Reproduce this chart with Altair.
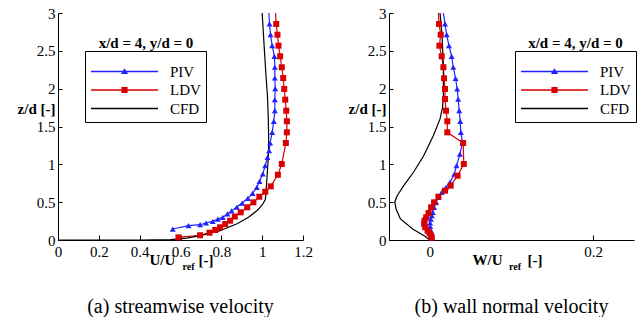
import altair as alt
import pandas as pd

SERIES = ["PIV", "LDV", "CFD"]
COLORS = ["#2222ff", "#d80000", "#000000"]
FONT = "Liberation Serif, DejaVu Serif, serif"

# ---------------- panel (a): streamwise velocity U/Uref ----------------
A_PIV_U = [0.562, 0.639, 0.696, 0.725, 0.758, 0.783, 0.807, 0.830, 0.850, 0.876, 0.902,
           0.930, 0.953, 0.974, 0.987, 1.003, 1.015, 1.026, 1.034, 1.039, 1.049, 1.057,
           1.062, 1.062, 1.064, 1.062, 1.062, 1.060, 1.049, 1.041, 1.036, 1.033]
A_PIV_Z = [0.145, 0.189, 0.202, 0.225, 0.247, 0.277, 0.300, 0.344, 0.385, 0.435, 0.488,
           0.551, 0.617, 0.696, 0.775, 0.872, 0.982, 1.093, 1.180, 1.282, 1.423, 1.569,
           1.709, 1.855, 2.000, 2.141, 2.283, 2.428, 2.568, 2.713, 2.855, 3.0]
A_LDV_U = [0.590, 0.696, 0.742, 0.770, 0.794, 0.819, 0.843, 0.866, 0.895, 0.927, 0.957,
           0.986, 1.015, 1.042, 1.077, 1.096, 1.116, 1.121, 1.121, 1.118, 1.113, 1.108,
           1.103, 1.096, 1.088, 1.080, 1.075, 1.069, 1.065]
A_LDV_Z = [0.035, 0.063, 0.096, 0.132, 0.168, 0.211, 0.255, 0.310, 0.366, 0.432, 0.498,
           0.572, 0.638, 0.709, 0.862, 1.004, 1.282, 1.423, 1.569, 1.709, 1.855, 1.996,
           2.141, 2.283, 2.428, 2.568, 2.713, 2.855, 3.0]
A_CFD_U = [0.0, 0.40, 0.55, 0.63, 0.696, 0.794, 0.835, 0.880, 0.935, 0.974, 0.990, 1.003,
           1.015, 1.018, 1.023, 1.028, 1.031, 1.032, 1.030, 1.026, 1.018, 1.010, 1.000]
A_CFD_Z = [0.0, 0.0, 0.006, 0.025, 0.057, 0.123, 0.168, 0.218, 0.305, 0.387, 0.432, 0.476,
           0.530, 0.600, 0.806, 1.000, 1.160, 1.330, 1.600, 1.900, 2.200, 2.550, 3.0]

# ---------------- panel (b): wall normal velocity W/Uref ----------------
B_PIV_W = [0.0024, 0.0020, 0.0012, 0.0004, 0.0004, 0.0012, 0.0024, 0.0036, 0.0052, 0.0077,
           0.0105, 0.0145, 0.0198, 0.0246, 0.0300, 0.0327, 0.0368, 0.0400, 0.0380, 0.0372,
           0.0360, 0.0347, 0.0335, 0.0315, 0.0287, 0.0267, 0.0234, 0.0206, 0.0186, 0.0166]
B_PIV_Z = [0.036, 0.079, 0.123, 0.181, 0.225, 0.277, 0.321, 0.366, 0.432, 0.498,
           0.564, 0.630, 0.696, 0.762, 0.872, 0.982, 1.136, 1.282, 1.423, 1.569,
           1.709, 1.863, 1.996, 2.137, 2.283, 2.428, 2.568, 2.713, 2.855, 3.0]
B_LDV_W = [0.0024, 0.0016, -0.0004, -0.0028, -0.0057, -0.0069, -0.0065, -0.0045, -0.0016,
           0.0016, 0.0052, 0.0105, 0.0186, 0.0255, 0.0340, 0.0416, 0.0408, 0.0214, 0.0214,
           0.0198, 0.0186, 0.0186, 0.0174, 0.0166, 0.0145, 0.0117, 0.0133, 0.0113, 0.0105]
B_LDV_Z = [0.030, 0.057, 0.092, 0.123, 0.168, 0.211, 0.255, 0.300, 0.357,
           0.432, 0.498, 0.572, 0.652, 0.718, 0.850, 1.004, 1.282, 1.423, 1.569,
           1.709, 1.863, 1.996, 2.137, 2.283, 2.428, 2.568, 2.713, 2.855, 3.0]
B_CFD_W = [0.0, -0.006, -0.021, -0.036, -0.041, -0.043, -0.040, -0.032, -0.020, -0.0077,
           0.0044, 0.0125, 0.0155, 0.0166, 0.0166, 0.0150, 0.0125]
B_CFD_Z = [0.0, 0.05, 0.145, 0.278, 0.40, 0.50, 0.585, 0.718, 0.895, 1.11,
           1.38, 1.60, 1.75, 1.90, 2.30, 2.70, 3.0]

Y_TICKS = [0, 0.5, 1, 1.5, 2, 2.5, 3]
A_X_TICKS = [0, 0.2, 0.4, 0.6, 0.8, 1.0, 1.2]
B_X_TICKS = [0, 0.2]

W, H = 245, 227

# legend symbols: a line segment with the series marker in its middle
LEGEND_SHAPES = [
    "M-6.7,-0.14H6.7V0.14H-6.7Z M0,-0.66L0.72,0.52L-0.72,0.52Z",
    "M-6.7,-0.14H6.7V0.14H-6.7Z M-0.62,-0.62H0.62V0.62H-0.62Z",
    "M-6.7,-0.14H6.7V0.14H-6.7Z",
]


def build_df(piv, ldv, cfd):
    rows = []
    for name, (vals, zs) in zip(SERIES, [piv, ldv, cfd]):
        n = len(vals)
        for i, (v, z) in enumerate(zip(vals, zs)):
            rows.append({"series": name, "v": v, "z": z, "i": i,
                         "marker": (name != "CFD") and (i < n - 1)})
    return pd.DataFrame(rows)


def panel(df, xdom, xticks, qty, title_x, ref_x, unit_x, ltitle_x, legend_x, caption):
    xs = alt.Scale(domain=xdom, nice=False, zero=False)
    ys = alt.Scale(domain=[0, 3], nice=False, zero=False)
    col = alt.Color("series:N", scale=alt.Scale(domain=SERIES, range=COLORS), legend=None)
    base = alt.Chart(df)

    lines = base.mark_line(strokeWidth=1.2).encode(
        x=alt.X("v:Q", scale=xs, axis=alt.Axis(
            orient="bottom", values=xticks, format="~g", ticks=False, labelFlush=False,
            labelPadding=4, title=qty, titleX=title_x, titleY=19,
            titleAlign="left", titleBaseline="middle", titleFontWeight="bold")),
        y=alt.Y("z:Q", scale=ys, axis=alt.Axis(
            orient="left", values=Y_TICKS, format="~g", ticks=False, labelFlush=False,
            labelPadding=3, title="z/d [-]", titleAngle=0, titleX=-3, titleY=95,
            titleAlign="right", titleBaseline="middle", titleFontWeight="bold")),
        color=col,
        detail="series:N",
        order="i:Q",
    )

    piv = base.transform_filter(
        (alt.datum.series == "PIV") & alt.datum.marker
    ).mark_point(shape="triangle-up", filled=True, size=36, opacity=1).encode(
        x=alt.X("v:Q", scale=xs, axis=alt.Axis(
            orient="top", offset=-H, values=xticks, labels=False, domain=False,
            ticks=True, tickSize=5, title="x/d = 4, y/d = 0", titleX=ltitle_x,
            titleY=-198, titleAlign="center", titleBaseline="middle",
            titleFontWeight="bold")),
        y=alt.Y("z:Q", scale=ys, axis=alt.Axis(
            orient="right", offset=-W, values=Y_TICKS, labels=False, domain=False,
            ticks=True, tickSize=4, title="ref", titleAngle=0, titleX=ref_x,
            titleY=253, titleAlign="center", titleBaseline="middle",
            titleFontSize=10, titleFontWeight="bold")),
        color=col,
    )

    ldv = base.transform_filter(
        (alt.datum.series == "LDV") & alt.datum.marker
    ).mark_point(shape="square", filled=True, size=36, opacity=1).encode(
        x=alt.X("v:Q", scale=xs, axis=alt.Axis(
            orient="bottom", labels=False, domain=False, ticks=False, values=xticks,
            title="[-]", titleX=unit_x, titleY=19, titleAlign="left",
            titleBaseline="middle", titleFontWeight="bold")),
        y=alt.Y("z:Q", scale=ys, axis=None),
        color=col,
    )

    leg = alt.Legend(
        orient="none", legendX=legend_x, legendY=38, title=" ",
        titlePadding=0, titleFontSize=8,
        strokeColor="black", fillColor="white", padding=5,
        symbolSize=100, symbolOffset=27, labelOffset=38, symbolStrokeWidth=0,
        labelFont=FONT, labelFontSize=15, labelColor="black", rowPadding=2.5,
    )
    # helper layer that only feeds the legend; its own points are clipped away
    legend_layer = base.mark_point(
        filled=True, opacity=1, size=100, clip=True
    ).encode(
        x=alt.value(-1000),
        y=alt.value(-1000),
        fill=alt.Fill("series:N", scale=alt.Scale(domain=SERIES, range=COLORS), legend=leg),
        shape=alt.Shape("series:N", scale=alt.Scale(domain=SERIES, range=LEGEND_SHAPES),
                        legend=leg),
    )

    return alt.layer(lines, piv, ldv, legend_layer).resolve_axis(
        x="independent", y="independent"
    ).properties(
        width=W, height=H,
        title=alt.TitleParams(caption, orient="bottom", anchor="middle", fontSize=20,
                              font=FONT, fontWeight="normal", color="black", offset=26),
    )


df_a = build_df((A_PIV_U, A_PIV_Z), (A_LDV_U, A_LDV_Z), (A_CFD_U, A_CFD_Z))
df_b = build_df((B_PIV_W, B_PIV_Z), (B_LDV_W, B_LDV_Z), (B_CFD_W, B_CFD_Z))

left = panel(df_a, [0, 1.2], A_X_TICKS, "U/U", 91, 130, 140, 87.5, 27,
             "(a) streamwise velocity")
right = panel(df_b, [-0.05, 0.25], B_X_TICKS, "W/U", 83, 125.5, 138, 186, 126,
              "(b) wall normal velocity")

chart = alt.hconcat(left, right, spacing=35).resolve_scale(
    fill="independent", shape="independent"
).resolve_legend(
    fill="independent", shape="independent"
).properties(
    padding={"left": 17, "top": 6, "right": 0, "bottom": 0}
).configure(font=FONT).configure_view(stroke=None).configure_axis(
    grid=False, labelFont=FONT, labelFontSize=15, labelColor="black",
    titleFont=FONT, titleFontSize=15, titleColor="black",
    domainColor="black", domainWidth=1, tickColor="black", tickWidth=1,
)

chart.save("out.html", embed_options={"renderer": "svg", "actions": False})
